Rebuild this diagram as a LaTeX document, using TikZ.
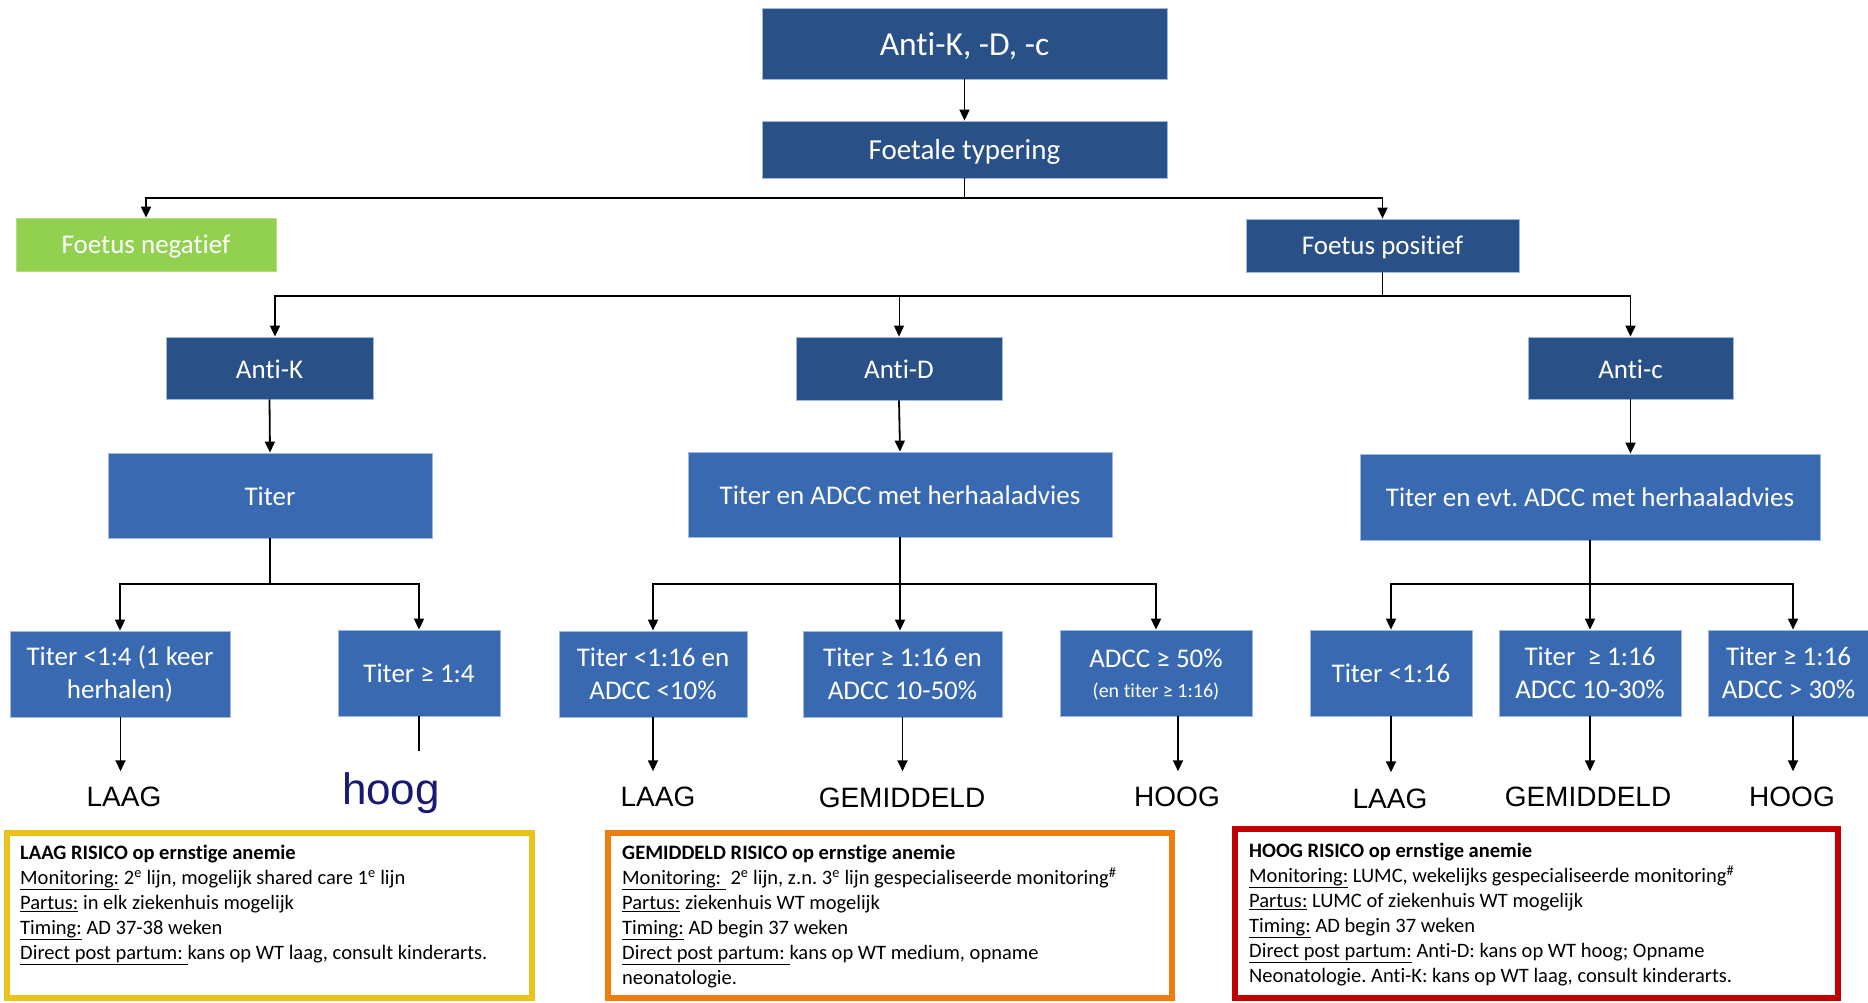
\documentclass[tikz,border=0pt]{standalone}
\usepackage{fontspec}
\setmainfont[Ligatures=NoCommon]{Carlito}
\newfontfamily\arialf{Liberation Sans}
\usetikzlibrary{arrows.meta,calc}
\definecolor{dkblue}{RGB}{42,81,135}
\definecolor{ltblue}{RGB}{56,105,177}
\definecolor{edgeblue}{RGB}{160,185,225}
\definecolor{fgreen}{RGB}{146,208,80}
\definecolor{byellow}{RGB}{233,195,28}
\definecolor{borange}{RGB}{237,125,14}
\definecolor{bred}{RGB}{192,0,0}
\definecolor{hoognavy}{RGB}{25,25,112}
\newcommand{\lowerit}[2]{\raisebox{-#1}[\height][\depth]{#2}}
\begin{document}
\frenchspacing
\begin{tikzpicture}[x=1pt,y=-1pt,
 dbox/.style={fill=dkblue, draw=edgeblue, line width=0.8pt, text=white, align=center, inner sep=0pt, font=\fontsize{27}{33}\selectfont},
 lbox/.style={dbox, fill=ltblue},
 gbox/.style={dbox, fill=fgreen, draw=fgreen!70!white},
 con/.style={line width=1.8pt, black},
 arr/.style={con, -{Triangle[length=11pt,width=10pt]}},
 risk/.style={font=\arialf\fontsize{28}{32}\selectfont, inner sep=0pt, anchor=base},
 infobox/.style={line width=6pt, fill=white, anchor=north west, inner sep=0pt},
 infotext/.style={anchor=north west, inner sep=0pt, align=left, font=\fontsize{20.5}{25}\selectfont, text=black}
]
\useasboundingbox (0,0) rectangle (1868,1002);
\fill[white] (0,0) rectangle (1868,1002);

% top levels
\node[dbox, minimum width=405pt, minimum height=71pt, font=\fontsize{33.5}{40}\selectfont] (top) at (964.5,43.5) {\lowerit{3pt}{Anti-K, -D, -c}};
\node[dbox, minimum width=405pt, minimum height=57pt, font=\fontsize{29}{35}\selectfont] (foet) at (964.5,149.5) {\lowerit{2pt}{Foetale typering}};
\node[gbox, minimum width=260pt, minimum height=53pt] (neg) at (146,244.5) {\lowerit{2pt}{Foetus negatief}};
\node[dbox, minimum width=273pt, minimum height=53pt] (pos) at (1382.5,245.5) {\lowerit{2pt}{Foetus positief}};

\node[dbox, minimum width=207pt, minimum height=62pt] (antiK) at (269.5,368) {\lowerit{1pt}{Anti-K}};
\node[dbox, minimum width=206pt, minimum height=63pt] (antiD) at (899,368.5) {\lowerit{1pt}{Anti-D}};
\node[dbox, minimum width=205pt, minimum height=62pt] (antic) at (1630.5,368) {\lowerit{1pt}{Anti-c}};

\node[lbox, minimum width=324pt, minimum height=85pt] (titerK) at (270,495.5) {\lowerit{1pt}{Titer}};
\node[lbox, minimum width=424pt, minimum height=85pt] (titerD) at (900,494.5) {\lowerit{1pt}{Titer en ADCC met herhaaladvies}};
\node[lbox, minimum width=460pt, minimum height=86pt] (titerc) at (1590,497) {Titer en evt. ADCC met herhaaladvies};

% bottom boxes
\node[lbox, minimum width=220pt, minimum height=86pt] (b1) at (120,674) {Titer <1:4 (1 keer\\herhalen)};
\node[lbox, minimum width=162pt, minimum height=86pt] (b2) at (419,673) {Titer ≥ 1:4};
\node[lbox, minimum width=188pt, minimum height=86pt] (b3) at (653,674) {Titer <1:16 en\\ADCC <10\%};
\node[lbox, minimum width=199pt, minimum height=86pt] (b4) at (902.5,674) {Titer ≥ 1:16 en\\ADCC 10-50\%};
\node[lbox, minimum width=192pt, minimum height=86pt] (b5) at (1156,673) {\lowerit{3pt}{ADCC ≥ 50\%}\\{\fontsize{20}{24}\selectfont (en titer ≥ 1:16)}};
\node[lbox, minimum width=162pt, minimum height=86pt] (b6) at (1391,673) {Titer <1:16};
\node[lbox, minimum width=182pt, minimum height=86pt] (b7) at (1590,673) {Titer \ ≥ 1:16\\ADCC 10-30\%};
\node[lbox, minimum width=160pt, minimum height=86pt] (b8) at (1788.5,673) {Titer ≥ 1:16\\ADCC > 30\%};

% risk labels
\node[risk] (l1) at (124,806) {LAAG};
\node[risk, font=\arialf\fontsize{44}{48}\selectfont, text=hoognavy] (l2) at (391,804) {hoog};
\node[risk] (l3) at (658,806) {LAAG};
\node[risk] (l4) at (902,807) {GEMIDDELD};
\node[risk] (l5) at (1177,806) {HOOG};
\node[risk] (l6) at (1390,808) {LAAG};
\node[risk] (l7) at (1588,806) {GEMIDDELD};
\node[risk] (l8) at (1792,806) {HOOG};

% connectors
\draw[arr] (top.south) -- (foet.north);
\coordinate (j1) at (964.5,198);
\draw[con] (foet.south) -- (j1);
\draw[arr] (j1) -| (neg.north);
\draw[arr] (j1) -| (pos.north);

\coordinate (j2) at (1382.5,296);
\draw[con] (pos.south) -- (j2);
\draw[arr] (j2) -| ([xshift=5.5pt]antiK.north);
\draw[arr, line width=1pt] (j2) -| (antiD.north);
\draw[arr] (j2) -| (antic.north);

\draw[arr] (antiK.south) -- (titerK.north);
\draw[arr] (antiD.south) -- (titerD.north);
\draw[arr] (antic.south) -- (antic.south |- titerc.north);

\coordinate (j3) at (270,584);
\draw[con] (titerK.south) -- (j3);
\draw[arr] (j3) -| (b1.north);
\draw[arr] (j3) -| (b2.north);

\coordinate (j4) at (900,584);
\draw[con] (titerD.south) -- (j4);
\draw[arr] (j4) -| (b3.north);
\draw[arr] (j4) -- (j4 |- b4.north);
\draw[arr] (j4) -| (b5.north);

\coordinate (j5) at (1590,584);
\draw[con] (titerc.south) -- (j5);
\draw[arr] (j5) -| (b6.north);
\draw[arr] (j5) -- (b7.north);
\draw[arr] (j5) -| ([xshift=4.5pt]b8.north);

\draw[arr] ([xshift=0.5pt]b1.south) -- ($([xshift=0.5pt]b1.south |- l1.north)+(0,-15)$);
\draw[con, line width=1.2pt] (b2.south) -- ($(b2.south |- l2.north)+(0,-21)$);
\draw[arr] (b3.south) -- ($(b3.south |- l3.north)+(0,-15)$);
\draw[arr] (b4.south) -- ($(b4.south |- l4.north)+(0,-16)$);
\draw[arr] ([xshift=22pt]b5.south) -- ($([xshift=22pt]b5.south |- l5.north)+(0,-15)$);
\draw[arr] (b6.south) -- ($(b6.south |- l6.north)+(0,-16)$);
\draw[arr] (b7.south) -- ($(b7.south |- l7.north)+(0,-15)$);
\draw[arr] ([xshift=4.5pt]b8.south) -- ($([xshift=4.5pt]b8.south |- l8.north)+(0,-15)$);

% info boxes
\node[infobox, draw=byellow, minimum width=525pt, minimum height=165pt] (laagbox) at (4,830) {};
\node[infobox, draw=borange, minimum width=564pt, minimum height=165pt] (gembox) at (605,830) {};
\node[infobox, draw=bred, minimum width=603pt, minimum height=169pt] (hoogbox) at (1232,826) {};

\node[infotext] (laagtext) at (20,845) {\textbf{LAAG RISICO op ernstige anemie}\\
\underline{Monitoring:} 2\textsuperscript{e} lijn, mogelijk shared care 1\textsuperscript{e} lijn\\
\underline{Partus:} in elk ziekenhuis mogelijk\\
\underline{Timing:} AD 37-38 weken\\
\underline{Direct post partum: }kans op WT laag, consult kinderarts.};

\node[infotext] (gemtext) at (622,845) {\textbf{GEMIDDELD RISICO op ernstige anemie}\\
\underline{Monitoring: } 2\textsuperscript{e} lijn, z.n. 3\textsuperscript{e} lijn gespecialiseerde monitoring\textsuperscript{\#}\\
\underline{Partus:} ziekenhuis WT mogelijk\\
\underline{Timing:} AD begin 37 weken\\
\underline{Direct post partum: }kans op WT medium, opname\\
neonatologie.};

\node[infotext] (hoogtext) at (1249,843) {\textbf{HOOG RISICO op ernstige anemie}\\
\underline{Monitoring:} LUMC, wekelijks gespecialiseerde monitoring\textsuperscript{\#}\\
\underline{Partus:} LUMC of ziekenhuis WT mogelijk\\
\underline{Timing:} AD begin 37 weken\\
\underline{Direct post partum:} Anti-D: kans op WT hoog; Opname\\
Neonatologie. Anti-K: kans op WT laag, consult kinderarts.};
\end{tikzpicture}
\end{document}
